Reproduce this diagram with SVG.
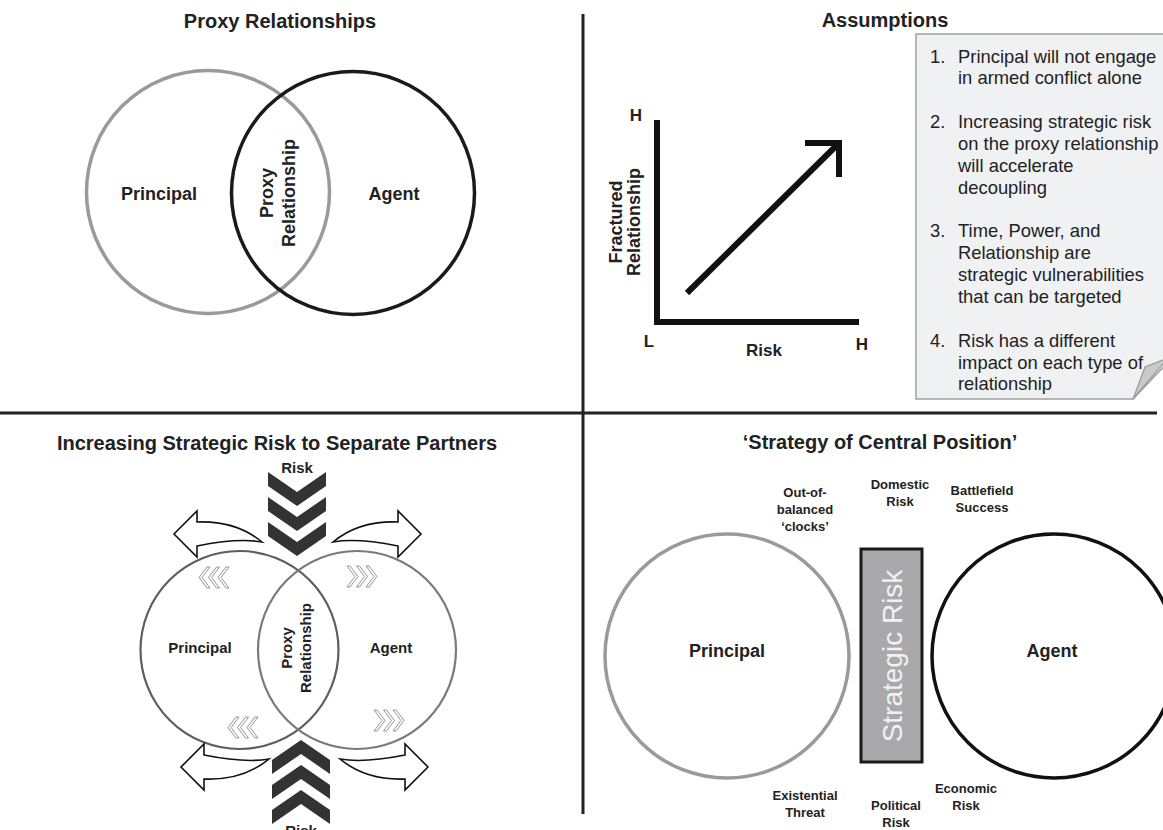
<svg xmlns="http://www.w3.org/2000/svg" width="1163" height="830" viewBox="0 0 1163 830">
<style>
text{font-family:"Liberation Sans",Arial,sans-serif;fill:#222}
.title{font-size:20px;font-weight:bold;text-anchor:middle}
.lbl18{font-size:18px;font-weight:bold;text-anchor:middle}
.lbl17{font-size:17px;font-weight:bold;text-anchor:middle}
.lbl15{font-size:15px;font-weight:bold;text-anchor:middle}
.lbl13{font-size:13px;font-weight:bold;text-anchor:middle}
.item{font-size:18.4px}
.divider{stroke:#222;stroke-width:3;fill:none}
.chev{fill:#333}
.thin{fill:#fff;stroke:#888;stroke-width:0.9}
.barrow{fill:#fff;stroke:#111;stroke-width:1.6;stroke-linejoin:miter}
</style>
<defs>
<g id="tripleLeft">
<polygon points="0,10.5 8,0 11,0 3,10.5 11,21 8,21"/>
<polygon points="9.5,10.5 17.5,0 20.5,0 12.5,10.5 20.5,21 17.5,21"/>
<polygon points="19,10.5 27,0 30,0 22,10.5 30,21 27,21"/>
</g>
</defs>
<rect width="1163" height="830" fill="#fff"/>

<g id="connectors">
<line class="divider" x1="583" y1="14" x2="583" y2="814"/>
<line class="divider" x1="0" y1="413" x2="1157" y2="413"/>
</g>

<g id="proxy-relationships">
<text class="title" x="280" y="28">Proxy Relationships</text>
<circle cx="208" cy="192" r="121.5" fill="none" stroke="#9a9a9a" stroke-width="3.5"/>
<circle cx="353" cy="193" r="121.5" fill="none" stroke="#1a1a1a" stroke-width="3.5"/>
<text class="lbl18" x="159" y="200">Principal</text>
<text class="lbl18" x="394" y="200">Agent</text>
<text class="lbl18" transform="translate(273,193) rotate(-90)">Proxy</text>
<text class="lbl18" transform="translate(295,193) rotate(-90)">Relationship</text>
</g>

<g id="risk-chart">
<polyline points="657,120 657,322 859,322" fill="none" stroke="#111" stroke-width="6" stroke-linejoin="miter"/>
<line x1="687" y1="293" x2="836" y2="146" stroke="#111" stroke-width="6"/>
<polyline points="805,143 839,143 839,177" fill="none" stroke="#111" stroke-width="6" stroke-linejoin="miter"/>
<text class="lbl17" x="636" y="121">H</text>
<text class="lbl17" x="649" y="347">L</text>
<text class="lbl17" x="764" y="356">Risk</text>
<text class="lbl17" x="862" y="350">H</text>
<text class="lbl18" transform="translate(622,222) rotate(-90)">Fractured</text>
<text class="lbl18" transform="translate(640,222) rotate(-90)">Relationship</text>
</g>

<g id="assumptions">
<text class="title" x="885" y="27">Assumptions</text>
<path d="M916,34 H1168 V362 L1133,399 H916 Z" fill="#f0f1f3" stroke="#a0a0a0" stroke-width="1.5"/>
<path d="M1133,399 L1145,367 L1168,358 Z" fill="#c9c9c9" stroke="#999" stroke-width="1.2"/>
<g class="item">
<text x="930" y="62.5">1.</text><text x="958" y="62.5">Principal will not engage</text>
<text x="958" y="84.4">in armed conflict alone</text>
<text x="930" y="128">2.</text><text x="958" y="128">Increasing strategic risk</text>
<text x="958" y="150">on the proxy relationship</text>
<text x="958" y="171.8">will accelerate</text>
<text x="958" y="193.7">decoupling</text>
<text x="930" y="237.4">3.</text><text x="958" y="237.4">Time, Power, and</text>
<text x="958" y="259.2">Relationship are</text>
<text x="958" y="281">strategic vulnerabilities</text>
<text x="958" y="303">that can be targeted</text>
<text x="930" y="346.6">4.</text><text x="958" y="346.6">Risk has a different</text>
<text x="958" y="368.5">impact on each type of</text>
<text x="958" y="390.3">relationship</text>
</g>
</g>

<g id="separate-partners">
<text class="title" x="277" y="450">Increasing Strategic Risk to Separate Partners</text>
<circle cx="239.5" cy="650" r="99" fill="none" stroke="#5e5e5e" stroke-width="2.2"/>
<circle cx="357" cy="650" r="99" fill="none" stroke="#7a7a7a" stroke-width="2.2"/>
<text class="lbl15" x="200" y="653">Principal</text>
<text class="lbl15" x="391" y="653">Agent</text>
<text class="lbl15" transform="translate(292,648) rotate(-90)">Proxy</text>
<text class="lbl15" transform="translate(311,648) rotate(-90)">Relationship</text>
<g class="thin">
<use href="#tripleLeft" transform="translate(199,567)"/>
<use href="#tripleLeft" transform="translate(377,566) scale(-1,1)"/>
<use href="#tripleLeft" transform="translate(228,717)"/>
<use href="#tripleLeft" transform="translate(404,710) scale(-1,1)"/>
</g>
<g class="chev">
<polygon points="268,472 297,492 326,472 326,486 297,506 268,486"/>
<polygon points="268,497 297,517 326,497 326,511 297,531 268,511"/>
<polygon points="268,522 297,542 326,522 326,536 297,556 268,536"/>
<polygon points="301,740 330,760 330,774 301,754 272,774 272,760"/>
<polygon points="301,765 330,785 330,799 301,779 272,799 272,785"/>
<polygon points="301,790 330,810 330,824 301,804 272,824 272,810"/>
</g>
<text class="lbl15" x="297" y="473">Risk</text>
<text class="lbl15" x="301" y="836">Risk</text>
<path class="barrow" d="M262,542 C245,528 222,521 197,522 L197,511 L174,534 L197,557 L197,546 C222,541 245,539 262,542 Z"/>
<path class="barrow" d="M333,542 C350,528 373,521 398,522 L398,511 L421,534 L398,557 L398,546 C373,541 350,539 333,542 Z"/>
<path class="barrow" d="M269,759 C252,773 229,780 204,779 L204,790 L181,767 L204,744 L204,755 C229,760 252,762 269,759 Z"/>
<path class="barrow" d="M340,759 C357,773 380,780 405,779 L405,790 L428,767 L405,744 L405,755 C380,760 357,762 340,759 Z"/>
</g>

<g id="central-position">
<text class="title" x="880" y="449">‘Strategy of Central Position’</text>
<circle cx="727" cy="656" r="122" fill="none" stroke="#9a9a9a" stroke-width="3.5"/>
<circle cx="1054" cy="656" r="122" fill="none" stroke="#111" stroke-width="3.5"/>
<rect x="861" y="549" width="61" height="213" fill="#a9a9ab" stroke="#1a1a1a" stroke-width="3"/>
<text transform="translate(902,656) rotate(-90)" style="font-size:28px;fill:#f2f2f2;text-anchor:middle">Strategic Risk</text>
<text class="lbl18" x="727" y="657">Principal</text>
<text class="lbl18" x="1052" y="657">Agent</text>
<text class="lbl13" x="805" y="497">Out-of-</text>
<text class="lbl13" x="805" y="514">balanced</text>
<text class="lbl13" x="805" y="531">‘clocks’</text>
<text class="lbl13" x="900" y="489">Domestic</text>
<text class="lbl13" x="900" y="506">Risk</text>
<text class="lbl13" x="982" y="495">Battlefield</text>
<text class="lbl13" x="982" y="512">Success</text>
<text class="lbl13" x="805" y="800">Existential</text>
<text class="lbl13" x="805" y="817">Threat</text>
<text class="lbl13" x="896" y="810">Political</text>
<text class="lbl13" x="896" y="827">Risk</text>
<text class="lbl13" x="966" y="793">Economic</text>
<text class="lbl13" x="966" y="810">Risk</text>
</g>
</svg>
